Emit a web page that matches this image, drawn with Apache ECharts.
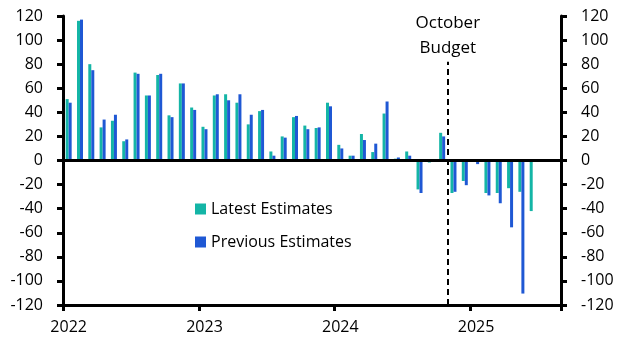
<!DOCTYPE html>
<html>
<head>
<meta charset="utf-8">
<script src="https://cdn.jsdelivr.net/npm/echarts@6/dist/echarts.min.js"></script>
<style>
html,body{margin:0;padding:0;background:#fff;}
#c{width:631px;height:357px;}
</style>
</head>
<body>
<div id="c"></div>
<script>
// Monthly categories Jan 2022 .. Aug 2025
var months = [
  '2022-01','2022-02','2022-03','2022-04','2022-05','2022-06','2022-07','2022-08','2022-09','2022-10','2022-11','2022-12',
  '2023-01','2023-02','2023-03','2023-04','2023-05','2023-06','2023-07','2023-08','2023-09','2023-10','2023-11','2023-12',
  '2024-01','2024-02','2024-03','2024-04','2024-05','2024-06','2024-07','2024-08','2024-09','2024-10','2024-11','2024-12',
  '2025-01','2025-02','2025-03','2025-04','2025-05','2025-06','2025-07','2025-08'
];
var latestEstimates = [
  51, 116, 80, 27.5, 33, 16, 73, 54, 71, 37.5, 64, 44,
  28, 54, 55, 48, 30, 41, 7.5, 20, 36, 29, 27, 48,
  13, 4, 22, 7, 39, 1.5, 7.5, -24, -1.7, 23, -27, -17,
  null, -27, -27, -23, -26, -42, null, null
];
var previousEstimates = [
  48, 117, 75, 34, 38, 17.5, 72, 54, 72, 36, 64, 42,
  26, 55, 50, 55, 38, 42, 4, 19, 37, 26, 27.5, 45,
  10, 4, 17, 14, 49, 2.5, 4, -27, null, 20, -26, -20.5,
  -3, -29, -35.5, -55.5, -110.5, null, null, null
];
var yTicks = { min: -120, max: 120, step: 20 };
var budgetMonthIndex = 34; // boundary before Nov 2024
var budgetLineTop = 82;
var budgetLabel = 'October\nBudget';
var legendNames = ['Latest Estimates', 'Previous Estimates'];

var FONT = 'Open Sans';
var chart = echarts.init(document.getElementById('c'), null, {renderer: 'canvas'});
var yAxisCommon = {
  type: 'value', min: yTicks.min, max: yTicks.max, interval: yTicks.step,
  axisLine: {show: true, lineStyle: {color: '#000', width: 3}},
  axisTick: {show: true, length: 6, lineStyle: {color: '#000', width: 3}},
  axisLabel: {color: '#000', fontSize: 16, fontFamily: FONT, margin: 20},
  splitLine: {show: false}
};
chart.setOption({
  animation: false,
  backgroundColor: '#fff',
  grid: {left: 63, right: 70, top: 16, bottom: 52, containLabel: false},
  legend: {
    orient: 'vertical', left: 190, top: 196, itemWidth: 11, itemHeight: 11, itemGap: 17,
    icon: 'rect', data: legendNames,
    textStyle: {color: '#000', fontSize: 16, fontFamily: FONT}
  },
  xAxis: [{
    type: 'category', data: months, position: 'bottom', boundaryGap: true,
    axisLine: {show: true, onZero: false, lineStyle: {color: '#000', width: 3}},
    axisTick: {show: true, length: 6, lineStyle: {color: '#000', width: 3},
      interval: function (i) { return i % 12 === 0; }},
    axisLabel: {color: '#000', fontSize: 16, fontFamily: FONT, margin: 14,
      interval: function (i) { return i % 12 === 0; },
      formatter: function (v) { return v.slice(0, 4); }},
    splitLine: {show: false}
  }, {
    type: 'value', min: 0, max: months.length, show: false
  }],
  yAxis: [
    Object.assign({}, yAxisCommon, {position: 'left'}),
    Object.assign({}, yAxisCommon, {position: 'right'})
  ],
  series: [{
    name: legendNames[0], type: 'bar', data: latestEstimates, barWidth: 3, barGap: '0%',
    itemStyle: {color: '#14B5A6'},
    markLine: {
      silent: true, symbol: 'none', label: {show: false},
      lineStyle: {color: '#000', width: 3, type: 'solid'},
      data: [{yAxis: 0}]
    }
  }, {
    name: legendNames[1], type: 'bar', data: previousEstimates, barWidth: 3, barGap: '0%',
    itemStyle: {color: '#1F58D4'}
  }, {
    name: 'budget', type: 'line', xAxisIndex: 1, yAxisIndex: 0, data: [],
    markLine: {
      silent: true, symbol: 'none',
      lineStyle: {color: '#000', width: 2, type: [6, 4]},
      label: {show: true, position: 'end', formatter: budgetLabel, color: '#000',
        fontSize: 17, fontFamily: FONT, lineHeight: 25, distance: 1},
      data: [[{coord: [budgetMonthIndex, yTicks.min]}, {coord: [budgetMonthIndex, budgetLineTop]}]]
    }
  }]
});
</script>
</body>
</html>
